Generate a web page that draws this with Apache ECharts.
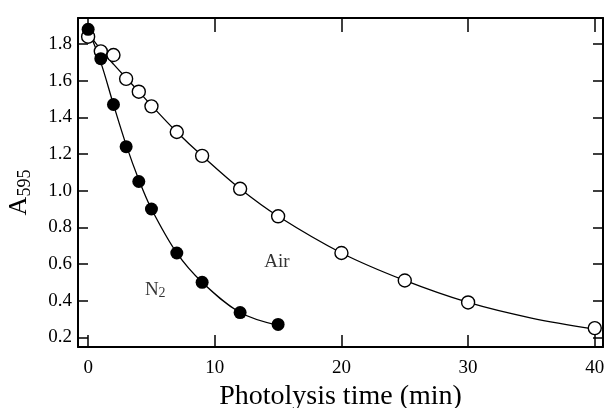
<!DOCTYPE html>
<html>
<head>
<meta charset="utf-8">
<script src="https://cdn.jsdelivr.net/npm/echarts@6/dist/echarts.min.js"></script>
<style>
html,body{margin:0;padding:0;background:#fff;}
#chart{width:608px;height:408px;}
</style>
</head>
<body>
<div id="chart"></div>
<script>
// ---- data ----
var airTime = [0, 1, 2, 3, 4, 5, 7, 9, 12, 15, 20, 25, 30, 40];
var airA    = [1.84, 1.76, 1.74, 1.61, 1.54, 1.46, 1.32, 1.19, 1.01, 0.86, 0.66, 0.51, 0.39, 0.25];
var n2Time  = [0, 1, 2, 3, 4, 5, 7, 9, 12, 15];
var n2A     = [1.88, 1.72, 1.47, 1.24, 1.05, 0.90, 0.66, 0.50, 0.335, 0.27];
// fitted curves
var airFitTime = [0, 1, 2, 3, 4, 5, 7, 9, 12, 15, 20, 25, 30, 35, 40];
var airFitA    = [1.86, 1.77, 1.69, 1.615, 1.54, 1.465, 1.32, 1.19, 1.01, 0.86, 0.66, 0.51, 0.39, 0.305, 0.245];
var n2FitTime  = [0, 1, 2, 3, 4, 5, 7, 9, 12, 15];
var n2FitA     = [1.88, 1.70, 1.47, 1.25, 1.06, 0.90, 0.66, 0.50, 0.335, 0.265];
// tick labels
var xTicks = [0, 10, 20, 30, 40];
var yTicks = [0.2, 0.4, 0.6, 0.8, 1.0, 1.2, 1.4, 1.6, 1.8];
// in-plot series labels
var labelNames = ['Air', 'N2'];
var labelTime  = [14.9, 5.3];
var labelA     = [0.61, 0.46];

function pairs(xs, ys) { return xs.map(function (x, i) { return [x, ys[i]]; }); }

var FONT = 'Liberation Serif';
var chart = echarts.init(document.getElementById('chart'), null, {renderer: 'canvas'});

var axisLine = {show: true, onZero: false, lineStyle: {color: '#000', width: 2}};
var option = {
  backgroundColor: '#fff',
  animation: false,
  grid: {left: 78, right: 5, top: 18, bottom: 61, containLabel: false, outerBoundsMode: 'none'},
  xAxis: [{
    type: 'value', min: -0.8, max: 40.65, position: 'bottom',
    axisLine: axisLine,
    axisTick: {show: true, inside: true, length: 12, lineStyle: {color: '#000', width: 1.5}, customValues: xTicks},
    axisLabel: {show: true, customValues: xTicks, margin: 12, color: '#000', fontFamily: FONT, fontSize: 19},
    splitLine: {show: false},
    name: 'Photolysis time (min)', nameLocation: 'middle', nameGap: 33,
    nameTextStyle: {color: '#000', fontFamily: FONT, fontSize: 28}
  }, {
    type: 'value', min: -0.8, max: 40.65, position: 'top',
    axisLine: axisLine,
    axisTick: {show: true, inside: true, length: 14, lineStyle: {color: '#000', width: 1.5}, customValues: xTicks},
    axisLabel: {show: false},
    splitLine: {show: false}
  }],
  yAxis: [{
    type: 'value', min: 0.147, max: 1.942, position: 'left',
    axisLine: axisLine,
    axisTick: {show: true, inside: true, length: 10, lineStyle: {color: '#000', width: 1.5}, customValues: yTicks},
    axisLabel: {show: true, customValues: yTicks, margin: 6, color: '#000', fontFamily: FONT, fontSize: 19,
      formatter: function (v) { return v.toFixed(1); }},
    splitLine: {show: false},
    name: '{a|A}{s|595}', nameLocation: 'middle', nameGap: 44, nameRotate: 90,
    nameTextStyle: {color: '#000', fontFamily: FONT, padding: [0, 20, 0, 0],
      rich: {
        a: {fontSize: 26, fontFamily: FONT, color: '#000'},
        s: {fontSize: 18, fontFamily: FONT, color: '#000', padding: [12, 0, 0, 0]}
      }}
  }, {
    type: 'value', min: 0.147, max: 1.942, position: 'right',
    axisLine: axisLine,
    axisTick: {show: true, inside: true, length: 10, lineStyle: {color: '#000', width: 1.5}, customValues: yTicks},
    axisLabel: {show: false},
    splitLine: {show: false}
  }],
  series: [
    {type: 'line', data: pairs(airFitTime, airFitA), smooth: 0.35, showSymbol: false,
      lineStyle: {color: '#000', width: 1.3}, z: 2},
    {type: 'line', data: pairs(n2FitTime, n2FitA), smooth: 0.35, showSymbol: false,
      lineStyle: {color: '#000', width: 1.3}, z: 2},
    {type: 'scatter', data: pairs(airTime, airA), symbol: 'circle', symbolSize: 13,
      itemStyle: {color: '#fff', borderColor: '#000', borderWidth: 1.4, opacity: 1}, z: 3},
    {type: 'scatter', data: pairs(n2Time, n2A), symbol: 'circle', symbolSize: 13,
      itemStyle: {color: '#000', opacity: 1}, z: 4},
    {type: 'scatter', symbolSize: 0, z: 5,
      data: labelNames.map(function (n, i) { return {name: n, value: [labelTime[i], labelA[i]]}; }),
      label: {show: true, position: 'inside', color: '#000', fontFamily: FONT, fontSize: 19,
        formatter: function (p) { return p.name === 'N2' ? '{n|N}{s|2}' : '{n|' + p.name + '}'; },
        rich: {
          n: {fontSize: 19, fontFamily: FONT, color: '#000'},
          s: {fontSize: 14, fontFamily: FONT, color: '#000', padding: [8, 0, 0, 0]}
        }}
    }
  ]
};
chart.setOption(option);
</script>
</body>
</html>
